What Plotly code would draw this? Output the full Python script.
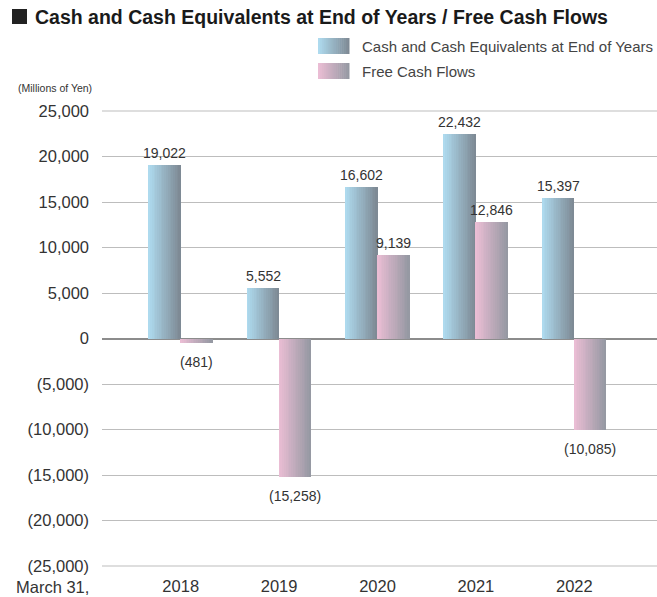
import plotly.graph_objects as go

years = ["2018", "2019", "2020", "2021", "2022"]
cash = [19022, 5552, 16602, 22432, 15397]
fcf = [-481, -15258, 9139, 12846, -10085]
y_ticks = [25000, 20000, 15000, 10000, 5000, 0, -5000, -10000, -15000, -20000, -25000]
series_names = ["Cash and Cash Equivalents at End of Years", "Free Cash Flows"]

FONT = "Liberation Sans, Arial, sans-serif"
TXT = "#333333"
BAR_W = 0.325
N = 18
grad_blue = ((174, 218, 238), (126, 138, 149))
grad_pink = ((234, 189, 212), (150, 153, 163))

W, H = 657, 597
ML, MR, MT, MB = 102, 0, 111, 31
PW, PH = W - ML - MR, H - MT - MB


def lerp(c0, c1, t):
    return "rgb(%d,%d,%d)" % tuple(round(a + (b - a) * t) for a, b in zip(c0, c1))


def fmt(v):
    s = f"{abs(v):,}"
    return f"({s})" if v < 0 else s


def pxx(x):
    return (x - ML) / PW


def pxy(y):
    return (H - MB - y) / PH


xs = list(range(len(years)))
fig = go.Figure()

for values, grad, base in ((cash, grad_blue, -BAR_W), (fcf, grad_pink, 0.0)):
    sw = BAR_W / N
    for i in range(N):
        fig.add_trace(go.Bar(
            x=xs, y=values, width=sw * 1.08, offset=base + i * sw,
            marker=dict(color=lerp(grad[0], grad[1], i / (N - 1)), line=dict(width=0)),
            showlegend=False, hoverinfo="skip"))

shapes = []
annotations = []

# value labels
for values, shift in ((cash, -BAR_W / 2), (fcf, BAR_W / 2)):
    for x, v in zip(xs, values):
        annotations.append(dict(
            x=x + shift, y=v, xref="x", yref="y", text=fmt(v), showarrow=False,
            yanchor="bottom" if v >= 0 else "top", yshift=2 if v >= 0 else -9,
            font=dict(family=FONT, size=14, color=TXT)))

# outer gridlines at the top and bottom of the value range
for yp in (0, 1):
    shapes.append(dict(type="line", xref="paper", yref="paper", x0=0, x1=1, y0=yp, y1=yp,
                       layer="below", line=dict(color="#bdbdbd", width=1)))

# legend swatches with gradients
for row, (name, grad) in enumerate(zip(series_names, (grad_blue, grad_pink))):
    y0, y1 = 38 + row * 25, 54 + row * 25
    x0, x1 = 318, 349
    steps = 16
    for i in range(steps):
        a = x0 + (x1 - x0) * i / steps
        b = x0 + (x1 - x0) * (i + 1) / steps + 0.5
        shapes.append(dict(type="rect", xref="paper", yref="paper",
                           x0=pxx(a), x1=pxx(b), y0=pxy(y1), y1=pxy(y0),
                           line=dict(width=0), fillcolor=lerp(grad[0], grad[1], i / (steps - 1))))
    annotations.append(dict(text=name, xref="paper", yref="paper", x=pxx(360), y=pxy((y0 + y1) / 2),
                            xanchor="left", yanchor="middle", showarrow=False,
                            font=dict(family=FONT, size=15, color="#444444")))

# title square + title
shapes.append(dict(type="rect", xref="paper", yref="paper", x0=pxx(12), x1=pxx(27),
                   y0=pxy(24), y1=pxy(9), line=dict(width=0), fillcolor="#222222"))
annotations.append(dict(text="<b>Cash and Cash Equivalents at End of Years / Free Cash Flows</b>",
                        xref="paper", yref="paper", x=pxx(33), y=pxy(17), xanchor="left", yanchor="middle",
                        showarrow=False, font=dict(family=FONT, size=19.5, color="#1a1a1a")))
annotations.append(dict(text="(Millions of Yen)", xref="paper", yref="paper", x=pxx(16), y=pxy(88),
                        xanchor="left", yanchor="middle", showarrow=False,
                        font=dict(family=FONT, size=10.5, color=TXT)))
annotations.append(dict(text="March 31,", xref="paper", yref="paper", x=pxx(14), y=pxy(587),
                        xanchor="left", yanchor="middle", showarrow=False,
                        font=dict(family=FONT, size=16.5, color=TXT)))

fig.update_layout(
    width=W, height=H, barmode="overlay", bargap=0,
    margin=dict(l=ML, r=MR, t=MT, b=MB),
    paper_bgcolor="white", plot_bgcolor="white",
    shapes=shapes, annotations=annotations,
    xaxis=dict(range=[-0.80, 4.84], tickvals=xs, ticktext=years, showgrid=False, zeroline=False,
               showline=False, ticks="", ticklabelstandoff=8,
               tickfont=dict(family=FONT, size=16.5, color=TXT)),
    yaxis=dict(range=[-25000, 25000], tickvals=y_ticks, ticktext=[fmt(v) for v in y_ticks],
               showgrid=True, gridcolor="#bdbdbd", gridwidth=1, zeroline=True, zerolinecolor="#8c8c8c",
               zerolinewidth=2, ticks="", ticklabelstandoff=12,
               tickfont=dict(family=FONT, size=16.5, color=TXT)),
)

fig.write_html("out.html", config={"displayModeBar": False},
               post_script="document.body.style.margin='0px';")
